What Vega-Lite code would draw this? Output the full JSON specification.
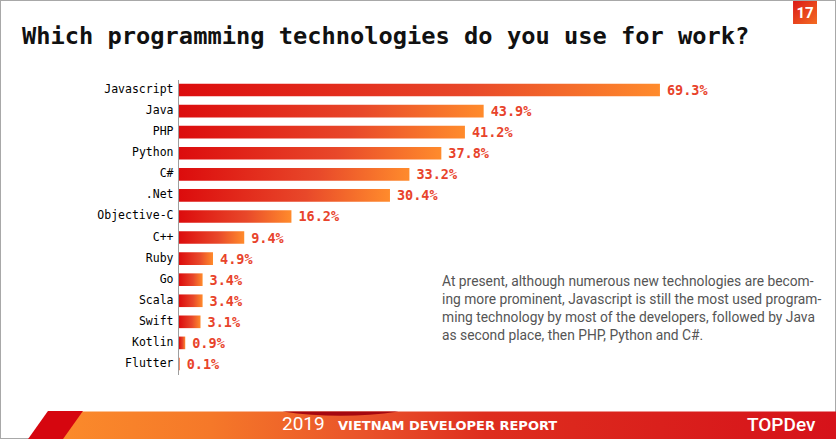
{
  "$schema": "https://vega.github.io/schema/vega-lite/v6.json",
  "width": 836,
  "height": 439,
  "autosize": {"type": "none"},
  "padding": 0,
  "background": "white",
  "config": {"view": {"stroke": "#a8a8a8", "strokeWidth": 2}},
  "title": {
    "text": "Which programming technologies do you use for work?",
    "anchor": "start",
    "frame": "group",
    "font": "DejaVu Sans Mono",
    "fontSize": 23.7,
    "fontWeight": "bold",
    "color": "#111111",
    "baseline": "alphabetic",
    "offset": 0,
    "dx": 22,
    "dy": 68
  },
  "datasets": {
    "usage": [
      {"tech": "Javascript", "share": 0.693},
      {"tech": "Java", "share": 0.439},
      {"tech": "PHP", "share": 0.412},
      {"tech": "Python", "share": 0.378},
      {"tech": "C#", "share": 0.332},
      {"tech": ".Net", "share": 0.304},
      {"tech": "Objective-C", "share": 0.162},
      {"tech": "C++", "share": 0.094},
      {"tech": "Ruby", "share": 0.049},
      {"tech": "Go", "share": 0.034},
      {"tech": "Scala", "share": 0.034},
      {"tech": "Swift", "share": 0.031},
      {"tech": "Kotlin", "share": 0.009},
      {"tech": "Flutter", "share": 0.001}
    ],
    "note": [
      {"text": "At present, although numerous new technologies are becom-\ning more prominent, Javascript is still the most used program-\nming technology by most of the developers, followed by Java\nas second place, then PHP, Python and C#."}
    ],
    "page": [
      {"badge": "17", "year": "2019", "report": "VIETNAM DEVELOPER REPORT", "brand": "TOPDev"}
    ]
  },
  "layer": [
    {
      "layer": [
        {
          "data": {"name": "usage"},
          "mark": {
            "type": "bar",
            "color": {
              "gradient": "linear", "x1": 0, "y1": 0, "x2": 1, "y2": 0,
              "stops": [
                {"offset": 0, "color": "#dc0c0d"},
                {"offset": 0.6, "color": "#e8482a"},
                {"offset": 1, "color": "#ff8b2c"}
              ]
            }
          },
          "encoding": {
            "y": {
              "field": "tech", "type": "nominal", "sort": null,
              "scale": {
                "domain": ["Javascript", "Java", "PHP", "Python", "C#", ".Net", "Objective-C", "C++", "Ruby", "Go", "Scala", "Swift", "Kotlin", "Flutter"],
                "range": [79.5, 374.5],
                "paddingInner": 0.4,
                "paddingOuter": 0.2
              },
              "axis": {
                "orient": "left",
                "offset": -178,
                "title": null,
                "ticks": false,
                "grid": false,
                "domainColor": "#9e9e9e",
                "domainWidth": 1,
                "labelFont": "DejaVu Sans Mono",
                "labelFontSize": 11.5,
                "labelColor": "#000000",
                "labelPadding": 5
              }
            },
            "x": {
              "field": "share", "type": "quantitative",
              "scale": {"domain": [0, 1], "range": [179, 873]},
              "axis": null
            }
          }
        },
        {
          "data": {"name": "usage"},
          "mark": {
            "type": "text", "align": "left", "baseline": "middle", "dx": 7, "dy": 1,
            "font": "DejaVu Sans Mono", "fontSize": 13.5, "fontWeight": "bold", "color": "#e8432b"
          },
          "encoding": {
            "y": {"field": "tech", "type": "nominal", "sort": null},
            "x": {"field": "share", "type": "quantitative"},
            "text": {"field": "share", "type": "quantitative", "format": ".1%"}
          }
        },
        {
          "data": {"name": "note"},
          "mark": {
            "type": "text", "align": "left", "baseline": "middle", "lineBreak": "\n", "lineHeight": 18,
            "dy": 2, "font": "Roboto", "fontSize": 13.8, "color": "#555555"
          },
          "encoding": {
            "x": {"datum": 0.379},
            "y": {"datum": "Go"},
            "text": {"field": "text"}
          }
        }
      ]
    },
    {
      "data": {"name": "page"},
      "layer": [
        {
          "mark": {
            "type": "rect",
            "color": {
              "gradient": "linear", "x1": 0, "y1": 0, "x2": 1, "y2": 0,
              "stops": [
                {"offset": 0, "color": "#fb8b2b"},
                {"offset": 0.2, "color": "#f57829"},
                {"offset": 0.4, "color": "#e9522a"},
                {"offset": 0.55, "color": "#de2e1e"},
                {"offset": 1, "color": "#d6121a"}
              ]
            }
          },
          "encoding": {
            "x": {"datum": 6.58, "type": "quantitative", "scale": {"domain": [0, 100], "range": [0, 836]}, "axis": null},
            "x2": {"datum": 100},
            "y": {"datum": 93.74, "type": "quantitative", "scale": {"domain": [0, 100], "range": [0, 439]}, "axis": null},
            "y2": {"datum": 100}
          }
        },
        {
          "mark": {
            "type": "point", "filled": true, "opacity": 1, "strokeWidth": 0, "color": "#d6060f",
            "shape": "M-0.98,0.5L-0.27,-0.5L0.98,-0.5L0.27,0.5Z", "size": 3136
          },
          "encoding": {
            "x": {"datum": 6.64, "type": "quantitative"},
            "y": {"datum": 96.81, "type": "quantitative"}
          }
        },
        {
          "mark": {
            "type": "point", "filled": true, "opacity": 1, "strokeWidth": 0, "color": "#a5070f",
            "shape": "M-1,0 Q0,0.15 1,0 Z", "size": 13456
          },
          "encoding": {
            "x": {"datum": 40.73, "type": "quantitative"},
            "y": {"datum": 93.74, "type": "quantitative"}
          }
        },
        {
          "mark": {
            "type": "rect",
            "color": {
              "gradient": "linear", "x1": 0, "y1": 0, "x2": 1, "y2": 1,
              "stops": [
                {"offset": 0, "color": "#dc1a18"},
                {"offset": 1, "color": "#f36c22"}
              ]
            }
          },
          "encoding": {
            "x": {"datum": 94.86, "type": "quantitative"},
            "x2": {"datum": 97.73},
            "y": {"datum": 0.23, "type": "quantitative"},
            "y2": {"datum": 5.47}
          }
        },
        {
          "mark": {"type": "text", "align": "center", "baseline": "middle", "font": "Roboto", "fontSize": 15, "fontWeight": "bold", "color": "white"},
          "encoding": {
            "x": {"datum": 96.29, "type": "quantitative"},
            "y": {"datum": 2.96, "type": "quantitative"},
            "text": {"field": "badge"}
          }
        },
        {
          "mark": {"type": "text", "align": "left", "baseline": "alphabetic", "font": "Roboto", "fontSize": 19, "color": "white"},
          "encoding": {
            "x": {"datum": 33.73, "type": "quantitative"},
            "y": {"datum": 98.0, "type": "quantitative"},
            "text": {"field": "year"}
          }
        },
        {
          "mark": {"type": "text", "align": "left", "baseline": "alphabetic", "font": "DejaVu Sans", "fontSize": 13, "fontWeight": "bold", "color": "white"},
          "encoding": {
            "x": {"datum": 40.43, "type": "quantitative"},
            "y": {"datum": 98.0, "type": "quantitative"},
            "text": {"field": "report"}
          }
        },
        {
          "mark": {"type": "text", "align": "left", "baseline": "alphabetic", "font": "Roboto", "fontSize": 19, "fontWeight": 500, "color": "white"},
          "encoding": {
            "x": {"datum": 89.35, "type": "quantitative"},
            "y": {"datum": 98.18, "type": "quantitative"},
            "text": {"field": "brand"}
          }
        }
      ]
    }
  ],
  "resolve": {"scale": {"x": "independent", "y": "independent"}}
}
